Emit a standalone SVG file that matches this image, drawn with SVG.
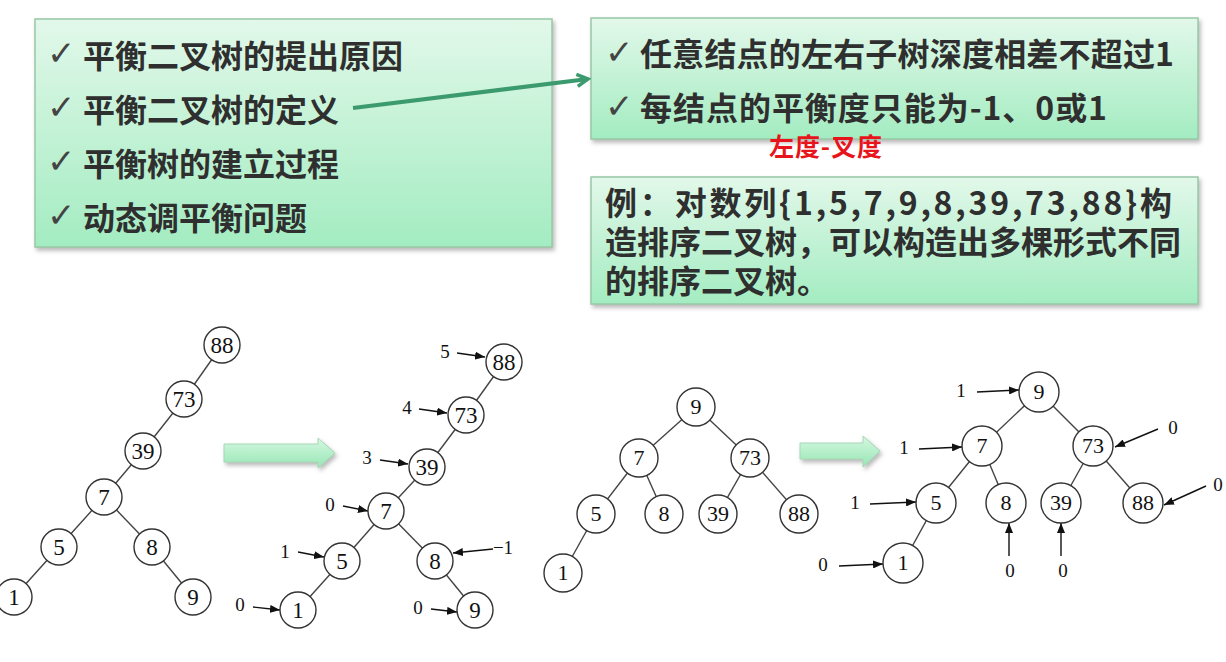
<svg xmlns="http://www.w3.org/2000/svg" width="1226" height="662" viewBox="0 0 1226 662">
<defs>
<linearGradient id="boxg" x1="0" y1="0" x2="0" y2="1">
<stop offset="0" stop-color="#e2f8ea"/>
<stop offset="1" stop-color="#a3ecc1"/>
</linearGradient>
<linearGradient id="arrg" x1="0" y1="0" x2="0" y2="1">
<stop offset="0" stop-color="#d6f8e1"/>
<stop offset="1" stop-color="#96e6b4"/>
</linearGradient>
<filter id="sh" x="-10%" y="-10%" width="120%" height="130%">
<feDropShadow dx="2" dy="3" stdDeviation="2" flood-color="#808080" flood-opacity="0.55"/>
</filter>
<marker id="tri" viewBox="0 0 10 8" refX="10" refY="4" markerWidth="10" markerHeight="8" markerUnits="userSpaceOnUse" orient="auto">
<path d="M0,0 L10,4 L0,8 Z" fill="#111"/>
</marker>
<marker id="vee" viewBox="0 0 16 16" refX="13" refY="8" markerWidth="16" markerHeight="16" markerUnits="userSpaceOnUse" orient="auto">
<path d="M2,2 L13,8 L2,14" fill="none" stroke="#3b9a6e" stroke-width="3.5" stroke-linejoin="miter"/>
</marker>
<style>
.box{fill:url(#boxg);stroke:#98c8a6;stroke-width:1.5;filter:url(#sh)}
.t{font-family:"Noto Sans CJK SC","Noto Sans",sans-serif;font-weight:bold;font-size:32px;fill:#2f2f2f}
.ck{font-family:"DejaVu Sans",sans-serif;font-size:34px;fill:#444}
.red{font-family:"Noto Sans CJK SC","Noto Sans",sans-serif;font-weight:bold;font-size:25px;fill:#e8141c}
.blk{fill:url(#arrg);stroke:#a6d8b6;stroke-width:1;filter:url(#sh)}
.e{stroke:#444;stroke-width:1.4;fill:none}
.la{stroke:#111;stroke-width:1.4;fill:none;marker-end:url(#tri)}
.n circle{fill:#fff;stroke:#333;stroke-width:1.4}
.n text{font-family:"Liberation Serif","DejaVu Serif",serif;font-size:23px;fill:#111;text-anchor:middle}
.m circle{fill:#fff;stroke:#333;stroke-width:1.4}
.m text{font-family:"Liberation Serif","DejaVu Serif",serif;font-size:22px;fill:#111;text-anchor:middle}
.lb{font-family:"Liberation Serif","DejaVu Serif",serif;font-size:19px;fill:#111;text-anchor:middle}
</style>
</defs>
<rect width="1226" height="662" fill="#fff"/>

<g id="box-outline">
<rect class="box" x="35" y="19" width="517" height="228"/>
<text class="ck" x="47" y="65">✓</text>
<text class="t" x="83" y="68">平衡二叉树的提出原因</text>
<text class="ck" x="47" y="119">✓</text>
<text class="t" x="83" y="122">平衡二叉树的定义</text>
<text class="ck" x="47" y="173">✓</text>
<text class="t" x="83" y="176">平衡树的建立过程</text>
<text class="ck" x="47" y="227">✓</text>
<text class="t" x="83" y="230">动态调平衡问题</text>
</g>

<g id="box-definition">
<rect class="box" x="591" y="18" width="607" height="121"/>
<text class="ck" x="605" y="64">✓</text>
<text class="t" x="640" y="66" textLength="534">任意结点的左右子树深度相差不超过1</text>
<text class="ck" x="605" y="118">✓</text>
<text class="t" x="640" y="120" textLength="467">每结点的平衡度只能为-1、0或1</text>
</g>

<g id="note-red">
<text class="red" x="769" y="156" textLength="113">左度-叉度</text>
</g>

<g id="box-example">
<rect class="box" x="591" y="177" width="607" height="127"/>
<text class="t" x="605" y="215" textLength="567">例：对数列{1,5,7,9,8,39,73,88}构</text>
<text class="t" x="605" y="254" textLength="576">造排序二叉树，可以构造出多棵形式不同</text>
<text class="t" x="605" y="293">的排序二叉树。</text>
</g>

<g id="connectors">
<line x1="353" y1="108" x2="588" y2="79" stroke="#3b9a6e" stroke-width="4" marker-end="url(#vee)"/>
<polygon class="blk" points="224,444 318,444 318,438 335,453 318,468 318,462 224,462"/>
<polygon class="blk" points="800,443 863,443 863,436 880,451 863,467 863,459 800,459"/>
<!-- tree 1 edges -->
<line class="e" x1="222" y1="345" x2="184" y2="399"/>
<line class="e" x1="184" y1="399" x2="143" y2="451"/>
<line class="e" x1="143" y1="451" x2="104" y2="497"/>
<line class="e" x1="104" y1="497" x2="59" y2="547"/>
<line class="e" x1="104" y1="497" x2="152" y2="547"/>
<line class="e" x1="59" y1="547" x2="14" y2="597"/>
<line class="e" x1="152" y1="547" x2="193" y2="597"/>
<!-- tree 2 edges -->
<line class="e" x1="504" y1="362" x2="466" y2="415"/>
<line class="e" x1="466" y1="415" x2="427" y2="467"/>
<line class="e" x1="427" y1="467" x2="386" y2="511"/>
<line class="e" x1="386" y1="511" x2="342" y2="561"/>
<line class="e" x1="386" y1="511" x2="435" y2="561"/>
<line class="e" x1="342" y1="561" x2="298" y2="610"/>
<line class="e" x1="435" y1="561" x2="475" y2="610"/>
<!-- tree 3 edges -->
<line class="e" x1="696" y1="407" x2="639" y2="458"/>
<line class="e" x1="696" y1="407" x2="750" y2="458"/>
<line class="e" x1="639" y1="458" x2="596" y2="514"/>
<line class="e" x1="639" y1="458" x2="664" y2="514"/>
<line class="e" x1="750" y1="458" x2="718" y2="514"/>
<line class="e" x1="750" y1="458" x2="799" y2="514"/>
<line class="e" x1="596" y1="514" x2="563" y2="573"/>
<!-- tree 4 edges -->
<line class="e" x1="1039" y1="392" x2="982" y2="446"/>
<line class="e" x1="1039" y1="392" x2="1093" y2="446"/>
<line class="e" x1="982" y1="446" x2="936" y2="503"/>
<line class="e" x1="982" y1="446" x2="1006" y2="503"/>
<line class="e" x1="1093" y1="446" x2="1061" y2="503"/>
<line class="e" x1="1093" y1="446" x2="1143" y2="503"/>
<line class="e" x1="936" y1="503" x2="903" y2="563"/>
<!-- tree 2 label arrows -->
<line class="la" x1="457" y1="353" x2="485" y2="357"/>
<line class="la" x1="419" y1="409" x2="447" y2="413"/>
<line class="la" x1="380" y1="460" x2="408" y2="464"/>
<line class="la" x1="343" y1="506" x2="368" y2="511"/>
<line class="la" x1="298" y1="552" x2="324" y2="557"/>
<line class="la" x1="493" y1="549" x2="453" y2="553"/>
<line class="la" x1="253" y1="607" x2="280" y2="610"/>
<line class="la" x1="431" y1="609" x2="457" y2="612"/>
<!-- tree 4 label arrows -->
<line class="la" x1="977" y1="392" x2="1019" y2="390"/>
<line class="la" x1="919" y1="449" x2="962" y2="447"/>
<line class="la" x1="1158" y1="429" x2="1115" y2="447"/>
<line class="la" x1="870" y1="504" x2="916" y2="502"/>
<line class="la" x1="1206" y1="486" x2="1164" y2="505"/>
<line class="la" x1="839" y1="566" x2="883" y2="564"/>
<line class="la" x1="1009" y1="556" x2="1009" y2="523"/>
<line class="la" x1="1061" y1="556" x2="1061" y2="523"/>
</g>

<g id="tree1">
<g id="t1-88" class="n"><circle cx="222" cy="345" r="18"/><text x="222" y="353">88</text></g>
<g id="t1-73" class="n"><circle cx="184" cy="399" r="18"/><text x="184" y="407">73</text></g>
<g id="t1-39" class="n"><circle cx="143" cy="451" r="18"/><text x="143" y="459">39</text></g>
<g id="t1-7" class="n"><circle cx="104" cy="497" r="18"/><text x="104" y="505">7</text></g>
<g id="t1-5" class="n"><circle cx="59" cy="547" r="18"/><text x="59" y="555">5</text></g>
<g id="t1-8" class="n"><circle cx="152" cy="547" r="18"/><text x="152" y="555">8</text></g>
<g id="t1-1" class="n"><circle cx="14" cy="597" r="18"/><text x="14" y="605">1</text></g>
<g id="t1-9" class="n"><circle cx="193" cy="597" r="18"/><text x="193" y="605">9</text></g>
</g>

<g id="tree2">
<g id="t2-88" class="n"><circle cx="504" cy="362" r="18"/><text x="504" y="370">88</text></g>
<g id="t2-73" class="n"><circle cx="466" cy="415" r="18"/><text x="466" y="423">73</text></g>
<g id="t2-39" class="n"><circle cx="427" cy="467" r="18"/><text x="427" y="475">39</text></g>
<g id="t2-7" class="n"><circle cx="386" cy="511" r="18"/><text x="386" y="519">7</text></g>
<g id="t2-5" class="n"><circle cx="342" cy="561" r="18"/><text x="342" y="569">5</text></g>
<g id="t2-8" class="n"><circle cx="435" cy="561" r="18"/><text x="435" y="569">8</text></g>
<g id="t2-1" class="n"><circle cx="298" cy="610" r="18"/><text x="298" y="618">1</text></g>
<g id="t2-9" class="n"><circle cx="475" cy="610" r="18"/><text x="475" y="618">9</text></g>
<text class="lb" x="445" y="358">5</text>
<text class="lb" x="407" y="414">4</text>
<text class="lb" x="367" y="464">3</text>
<text class="lb" x="330" y="511">0</text>
<text class="lb" x="285" y="558">1</text>
<text class="lb" x="503" y="554">−1</text>
<text class="lb" x="240" y="611">0</text>
<text class="lb" x="418" y="614">0</text>
</g>

<g id="tree3">
<g id="t3-9" class="m"><circle cx="696" cy="407" r="19"/><text x="696" y="414">9</text></g>
<g id="t3-7" class="m"><circle cx="639" cy="458" r="19"/><text x="639" y="465">7</text></g>
<g id="t3-73" class="m"><circle cx="750" cy="458" r="19"/><text x="750" y="465">73</text></g>
<g id="t3-5" class="m"><circle cx="596" cy="514" r="19"/><text x="596" y="521">5</text></g>
<g id="t3-8" class="m"><circle cx="664" cy="514" r="19"/><text x="664" y="521">8</text></g>
<g id="t3-39" class="m"><circle cx="718" cy="514" r="19"/><text x="718" y="521">39</text></g>
<g id="t3-88" class="m"><circle cx="799" cy="514" r="19"/><text x="799" y="521">88</text></g>
<g id="t3-1" class="m"><circle cx="563" cy="573" r="19"/><text x="563" y="580">1</text></g>
</g>

<g id="tree4">
<g id="t4-9" class="m"><circle cx="1039" cy="392" r="20"/><text x="1039" y="399">9</text></g>
<g id="t4-7" class="m"><circle cx="982" cy="446" r="20"/><text x="982" y="453">7</text></g>
<g id="t4-73" class="m"><circle cx="1093" cy="446" r="20"/><text x="1093" y="453">73</text></g>
<g id="t4-5" class="m"><circle cx="936" cy="503" r="20"/><text x="936" y="510">5</text></g>
<g id="t4-8" class="m"><circle cx="1006" cy="503" r="20"/><text x="1006" y="510">8</text></g>
<g id="t4-39" class="m"><circle cx="1061" cy="503" r="20"/><text x="1061" y="510">39</text></g>
<g id="t4-88" class="m"><circle cx="1143" cy="503" r="20"/><text x="1143" y="510">88</text></g>
<g id="t4-1" class="m"><circle cx="903" cy="563" r="20"/><text x="903" y="570">1</text></g>
<text class="lb" x="961" y="397">1</text>
<text class="lb" x="904" y="454">1</text>
<text class="lb" x="1173" y="434">0</text>
<text class="lb" x="855" y="509">1</text>
<text class="lb" x="1218" y="491">0</text>
<text class="lb" x="823" y="571">0</text>
<text class="lb" x="1010" y="577">0</text>
<text class="lb" x="1063" y="577">0</text>
</g>
</svg>
